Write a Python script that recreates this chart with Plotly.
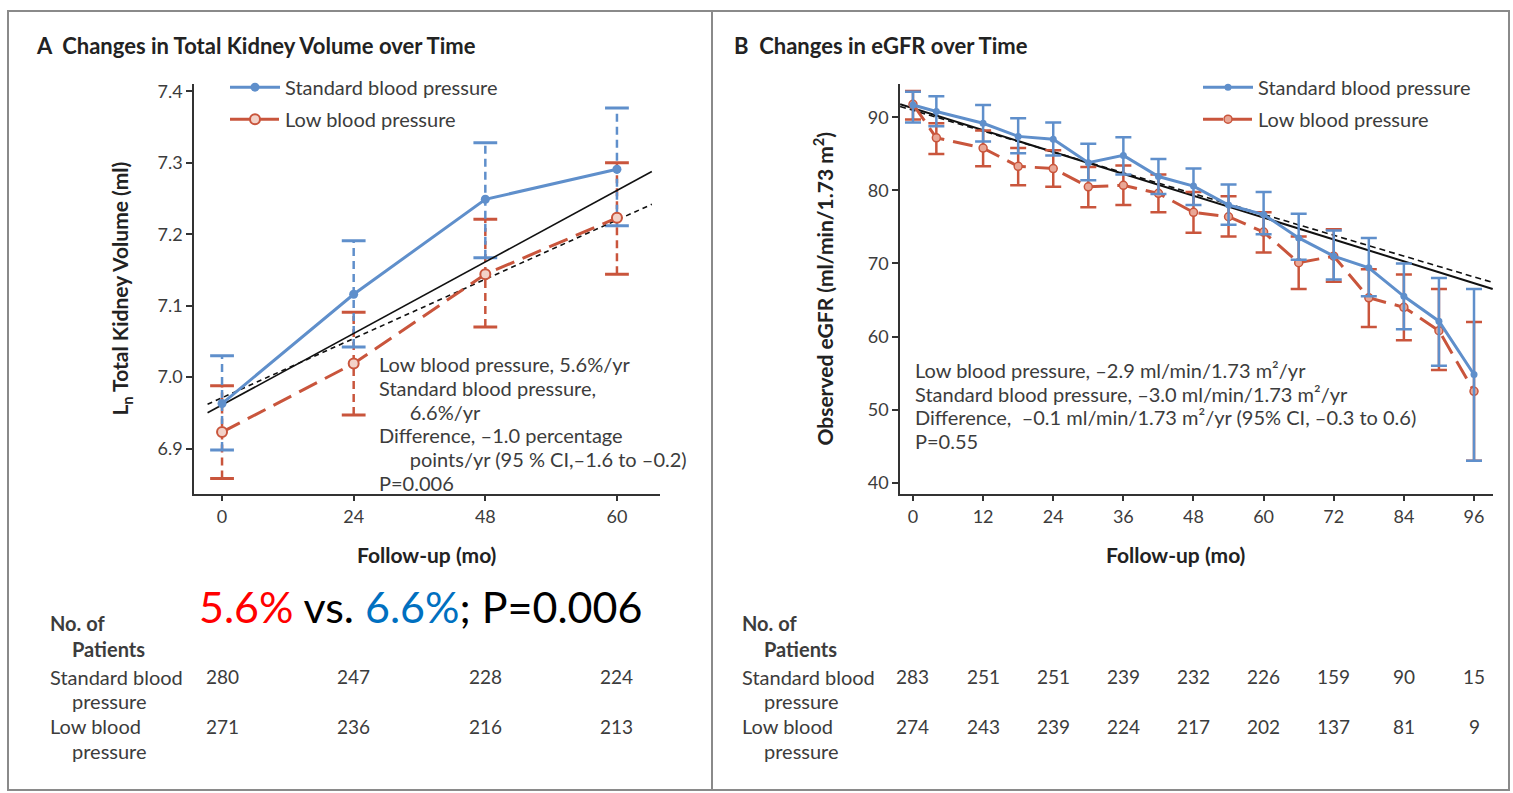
import plotly.graph_objects as go

W, H = 1513, 793
def px(x): return x / W
def py(y): return 1 - y / H

FONT = "Lato, 'Open Sans', sans-serif"
TXT = "#3c3c3c"
BLUE = "#5f8fcb"
RED = "#c9553c"

# ---------------- Panel A data ----------------
a_months = ["0", "24", "48", "60"]
a_pos = [0, 1, 2, 3]
a_std = [6.963, 7.116, 7.249, 7.291]
a_std_hi = [7.030, 7.191, 7.328, 7.377]
a_std_lo = [6.898, 7.042, 7.167, 7.212]
a_low = [6.923, 7.019, 7.144, 7.223]
a_low_hi = [6.988, 7.091, 7.221, 7.300]
a_low_lo = [6.858, 6.947, 7.070, 7.144]
a_fit_x = [-0.11, 3.265]
a_fit_std = [6.950, 7.288]
a_fit_low = [6.962, 7.242]
a_n_std = [280, 247, 228, 224]
a_n_low = [271, 236, 216, 213]
a_yticks = [6.9, 7.0, 7.1, 7.2, 7.3, 7.4]

# ---------------- Panel B data ----------------
b_months = [0, 4, 12, 18, 24, 30, 36, 42, 48, 54, 60, 66, 72, 78, 84, 90, 96]
b_std = [91.7, 90.8, 89.2, 87.4, 87.0, 83.8, 84.8, 81.9, 80.6, 78.0, 76.7, 73.5, 71.0, 69.4, 65.5, 62.1, 54.8]
b_std_hi = [93.5, 92.9, 91.7, 89.9, 89.3, 86.4, 87.3, 84.3, 83.0, 80.8, 79.8, 76.8, 74.5, 73.5, 70.0, 68.0, 66.5]
b_std_lo = [89.3, 88.8, 86.7, 85.1, 84.8, 81.4, 82.2, 79.5, 78.0, 75.3, 74.0, 70.5, 67.8, 65.5, 61.0, 56.0, 43.0]
b_low = [91.8, 87.2, 85.8, 83.3, 83.0, 80.5, 80.7, 79.6, 77.0, 76.4, 74.3, 70.1, 71.0, 65.3, 64.0, 60.8, 52.5]
b_low_hi = [93.6, 89.2, 88.2, 85.8, 85.5, 83.2, 83.4, 82.2, 79.8, 79.2, 77.0, 73.7, 74.7, 69.2, 68.5, 66.5, 62.0]
b_low_lo = [89.7, 85.0, 83.3, 80.7, 80.5, 77.7, 78.0, 77.0, 74.2, 73.7, 71.5, 66.5, 67.5, 61.3, 59.5, 55.4, 43.0]
b_fit_x = [-2.2, 99.2]
b_fit_std = [91.8, 66.5]
b_fit_low = [91.5, 67.4]
b_risk_months = [0, 12, 24, 36, 48, 60, 72, 84, 96]
b_n_std = [283, 251, 251, 239, 232, 226, 159, 90, 15]
b_n_low = [274, 243, 239, 224, 217, 202, 137, 81, 9]
b_yticks = [40, 50, 60, 70, 80, 90]

fig = go.Figure()

def stems(xs, lo, hi):
    X, Y = [], []
    for x, l, h in zip(xs, lo, hi):
        X += [x, x, None]
        Y += [l, h, None]
    return X, Y

# ---- Panel A error bars (dashed stems + caps) ----
for vals_lo, vals_hi, col in [(a_low_lo, a_low_hi, RED), (a_std_lo, a_std_hi, BLUE)]:
    sx, sy = stems(a_pos, vals_lo, vals_hi)
    fig.add_trace(go.Scatter(x=sx, y=sy, mode="lines", line=dict(color=col, width=2.5, dash="8px,5px"),
                             showlegend=False, hoverinfo="skip", xaxis="x", yaxis="y"))
    fig.add_trace(go.Scatter(x=a_pos + a_pos, y=vals_lo + vals_hi, mode="markers",
                             marker=dict(symbol="line-ew", size=17, line=dict(color=col, width=3)),
                             showlegend=False, hoverinfo="skip", xaxis="x", yaxis="y"))

# ---- Panel A regression lines ----
fig.add_trace(go.Scatter(x=a_fit_x, y=a_fit_std, mode="lines", line=dict(color="#111", width=1.6),
                         showlegend=False, xaxis="x", yaxis="y"))
fig.add_trace(go.Scatter(x=a_fit_x, y=a_fit_low, mode="lines", line=dict(color="#111", width=1.6, dash="5px,4px"),
                         showlegend=False, xaxis="x", yaxis="y"))

# ---- Panel A series ----
fig.add_trace(go.Scatter(x=a_pos, y=a_std, mode="lines+markers", name="Standard blood pressure",
                         line=dict(color=BLUE, width=3), marker=dict(size=9, color=BLUE),
                         legend="legend", legendgroup="a1", legendrank=1, xaxis="x", yaxis="y"))
fig.add_trace(go.Scatter(x=a_pos, y=a_low, mode="lines+markers", name="Low blood pressure",
                         line=dict(color=RED, width=3, dash="20px,9px"),
                         marker=dict(size=10, color="#f3d2c8", line=dict(color=RED, width=2)),
                         legend="legend", legendgroup="a2", legendrank=2, xaxis="x", yaxis="y"))

# ---- Panel B regression lines ----
fig.add_trace(go.Scatter(x=b_fit_x, y=b_fit_std, mode="lines", line=dict(color="#111", width=2),
                         showlegend=False, xaxis="x2", yaxis="y2"))
fig.add_trace(go.Scatter(x=b_fit_x, y=b_fit_low, mode="lines", line=dict(color="#111", width=1.6, dash="6px,4px"),
                         showlegend=False, xaxis="x2", yaxis="y2"))

# ---- Panel B series ----
def err(v, lo, hi):
    return dict(type="data", symmetric=False,
                array=[h - x for x, h in zip(v, hi)],
                arrayminus=[x - l for x, l in zip(v, lo)])

eb = err(b_low, b_low_lo, b_low_hi)
eb.update(color=RED, thickness=2.5, width=8)
fig.add_trace(go.Scatter(x=b_months, y=b_low, mode="lines+markers", name="Low blood pressure",
                         line=dict(color=RED, width=3, dash="20px,9px"),
                         marker=dict(size=8, color="#e9a796", line=dict(color=RED, width=1.5)),
                         error_y=eb, legend="legend2", legendgroup="b2", legendrank=2, xaxis="x2", yaxis="y2"))
eb2 = err(b_std, b_std_lo, b_std_hi)
eb2.update(color=BLUE, thickness=2.5, width=8)
fig.add_trace(go.Scatter(x=b_months, y=b_std, mode="lines+markers", name="Standard blood pressure",
                         line=dict(color=BLUE, width=3), marker=dict(size=7, color=BLUE),
                         error_y=eb2, legend="legend2", legendgroup="b1", legendrank=1, xaxis="x2", yaxis="y2"))

axis_common = dict(showline=True, linecolor="#333", linewidth=1.5, ticks="outside", ticklen=6,
                   tickcolor="#333", tickwidth=1.5, showgrid=False, zeroline=False,
                   tickfont=dict(family=FONT, size=18, color=TXT))

leg_common = dict(xanchor="left", yanchor="top", bgcolor="rgba(0,0,0,0)",
                  font=dict(family=FONT, size=20, color=TXT), traceorder="grouped",
                  tracegroupgap=3, itemwidth=50)

fig.update_layout(
    width=W, height=H, margin=dict(l=0, r=0, t=0, b=0),
    paper_bgcolor="white", plot_bgcolor="white",
    font=dict(family=FONT, color=TXT),
    xaxis=dict(domain=[px(194), px(660)], range=[-0.213, 3.327], tickvals=a_pos, ticktext=a_months,
               anchor="y", **axis_common),
    yaxis=dict(domain=[py(492), py(80)], range=[6.837, 7.411], tickvals=a_yticks,
               ticktext=[f"{v:.1f}" for v in a_yticks], anchor="x", **axis_common),
    xaxis2=dict(domain=[px(900), px(1493)], range=[-2.22, 99.25], tickvals=b_risk_months,
                anchor="y2", **axis_common),
    yaxis2=dict(domain=[py(492), py(80)], range=[38.5, 94.63], tickvals=b_yticks, anchor="x2", **axis_common),
    legend=dict(x=px(225), y=py(64), **leg_common),
    legend2=dict(x=px(1198), y=py(64), **leg_common),
    showlegend=True,
)

# panel frames
fig.add_shape(type="rect", xref="paper", yref="paper", x0=px(8), x1=px(712), y0=py(790), y1=py(7),
              line=dict(color="#8a8a8a", width=2))
fig.add_shape(type="rect", xref="paper", yref="paper", x0=px(712), x1=px(1509), y0=py(790), y1=py(7),
              line=dict(color="#8a8a8a", width=2))

def ann(x, y, text, size=20, bold=False, anchor="left", color=TXT, angle=0, xref="paper", yref="paper"):
    if bold:
        text = f"<b>{text}</b>"
    fig.add_annotation(x=x, y=y, xref=xref, yref=yref, text=text, showarrow=False, xanchor=anchor,
                       yanchor="middle", align="left", textangle=angle,
                       font=dict(family=FONT, size=size, color=color))

# titles
ann(px(34), py(42), "A  Changes in Total Kidney Volume over Time", size=22, bold=True, color="#222")
ann(px(732), py(42), "B  Changes in eGFR over Time", size=22, bold=True, color="#222")

# axis titles
ann(px(121), py(286), "L<sub>n</sub> Total Kidney Volume (ml)", size=21, bold=True, anchor="center", angle=-90, color="#222")
ann(px(823), py(286), "Observed eGFR (ml/min/1.73 m<sup>2</sup>)", size=21, bold=True, anchor="center", angle=-90, color="#222")
ann(px(426), py(553), "Follow-up (mo)", size=21, bold=True, anchor="center", color="#222")
ann(px(1175), py(553), "Follow-up (mo)", size=21, bold=True, anchor="center", color="#222")

# statistics text (one annotation per line)
NB = "&nbsp;"
a_lines = ["Low blood pressure, 5.6%/yr", "Standard blood pressure,", NB * 6 + "6.6%/yr",
           "Difference, –1.0 percentage", NB * 6 + "points/yr (95 % CI,–1.6 to –0.2)", "P=0.006"]
for i, t in enumerate(a_lines):
    ann(px(377), py(362 + 23.8 * i), t, size=20)
b_lines = ["Low blood pressure, –2.9 ml/min/1.73 m²/yr",
           "Standard blood pressure, –3.0 ml/min/1.73 m²/yr",
           "Difference,  –0.1 ml/min/1.73 m²/yr (95% CI, –0.3 to 0.6)", "P=0.55"]
for i, t in enumerate(b_lines):
    ann(px(913), py(368 + 23.7 * i), t, size=20)

# big highlight
ann(px(197), py(606),
    "<span style='color:#ff0000'>5.6%</span> vs. <span style='color:#0070c0'>6.6%</span>; P=0.006",
    size=43, color="#000")

# number at risk tables
for x0, xi in [(48, 70), (740, 762)]:
    ann(px(x0), py(622), "No. of", size=20, bold=True)
    ann(px(xi), py(648), "Patients", size=20, bold=True)
    ann(px(x0), py(676), "Standard blood", size=20)
    ann(px(xi), py(701), "pressure", size=20)
    ann(px(x0), py(726), "Low blood", size=20)
    ann(px(xi), py(751), "pressure", size=20)

for xv, ns, nl in zip(a_pos, a_n_std, a_n_low):
    ann(xv, py(676), str(ns), size=19, anchor="center", xref="x")
    ann(xv, py(726), str(nl), size=19, anchor="center", xref="x")
for xv, ns, nl in zip(b_risk_months, b_n_std, b_n_low):
    ann(xv, py(676), str(ns), size=19, anchor="center", xref="x2")
    ann(xv, py(726), str(nl), size=19, anchor="center", xref="x2")

fig.write_html("out.html")
